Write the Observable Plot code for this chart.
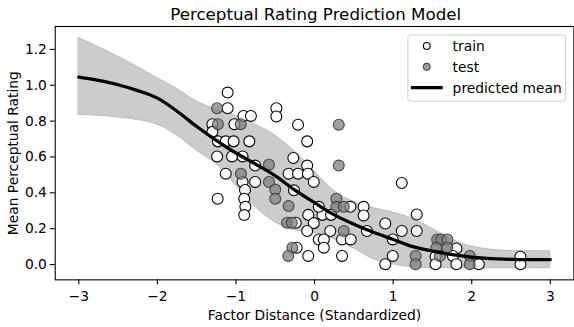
<!DOCTYPE html>
<html>
<head>
<meta charset="utf-8">
<script src="https://cdn.jsdelivr.net/npm/d3@7"></script>
<script src="https://cdn.jsdelivr.net/npm/@observablehq/plot@0.6"></script>
<style>
  html, body { margin: 0; padding: 0; background: white; overflow: hidden; }
  #wrap { position: relative; width: 574px; height: 327px; overflow: hidden; background: white; }
  #title { position: absolute; top: 0; left: 55px; width: 521.4px; text-align: center;
           font-family: "DejaVu Sans", sans-serif; font-size: 16.7px; line-height: 28px; color: black; white-space: nowrap; }
  #chart { position: absolute; top: 26px; left: 0; }
</style>
</head>
<body>
<div id="wrap">
  <div id="title">Perceptual Rating Prediction Model</div>
  <div id="chart"></div>
</div>
<script>
// ---- data ----
const trainX = [-1.30, -1.30, -1.106, -1.106, -1.02, -0.904, -0.81, -1.23, -1.13, -1.03, -0.83, -1.24, -1.05, -0.916,
  -0.756, -1.13, -0.756, -0.916, -0.885, -1.233, -0.895, -0.88, -0.895, -0.486, -0.486, -0.21, -0.094, -0.27,
  -0.094, -0.33, -0.21, -0.085, -0.01, -0.262, -0.24, -0.228, -0.08, -0.08, 0.10, 0.21, 0.054, -0.01, -0.094,
  0.20, 0.054, 0.118, 0.118, 0.35, 0.46, 0.35, 0.456, 0.624, 0.624, 0.666, 0.90, 0.995, 0.995, 0.90, 1.11,
  1.30, 1.11, 1.30, 1.54, 1.54, 1.805, 1.76, 1.805, 2.09, 2.62, 2.62];
const trainY = [0.783, 0.740, 0.959, 0.872, 0.783, 0.829, 0.829, 0.687, 0.687, 0.687, 0.687, 0.603, 0.603, 0.603,
  0.552, 0.507, 0.461, 0.461, 0.416, 0.367, 0.367, 0.322, 0.276, 0.872, 0.826, 0.780, 0.687, 0.594,
  0.552, 0.507, 0.507, 0.507, 0.461, 0.414, 0.233, 0.094, 0.048, 0.277, 0.277, 0.277, 0.322, 0.231, 0.187,
  0.187, 0.140, 0.140, 0.094, 0.140, 0.140, 0.048, 0.322, 0.322, 0.274, 0.187, 0.229, 0.140, 0.048, 0.002, 0.455,
  0.279, 0.187, 0.187, 0.044, 0.002, 0.090, 0.048, 0.002, 0.002, 0.044, 0.002];

const testX = [-1.24, -1.23, -0.94, -0.937, -0.58, -0.58, -0.50, -0.50, -0.33, -0.35, -0.29, -0.283, -0.334,
  0.308, 0.308, 0.278, 0.278, 0.371, 0.371, 1.286, 1.286, 1.56, 1.61, 1.69, 1.55, 1.69, 1.595, 1.975, 1.975];
const testY = [0.872, 0.783, 0.783, 0.507, 0.557, 0.461, 0.418, 0.367, 0.326, 0.233, 0.233, 0.094, 0.048,
  0.780, 0.552, 0.367, 0.322, 0.322, 0.187, 0.048, 0.002, 0.140, 0.140, 0.140, 0.094, 0.094, 0.048, 0.048, 0.002];

// predicted mean curve
const meanX = [-3, -2.75, -2.5, -2.25, -2, -1.75, -1.5, -1.25, -1, -0.75, -0.5, -0.25, 0, 0.25, 0.5, 0.75, 1, 1.25, 1.5, 1.75, 2, 2.5, 3];
const meanY = [1.045, 1.027, 1.003, 0.97, 0.928, 0.855, 0.77, 0.693, 0.622, 0.56, 0.495, 0.415, 0.345, 0.277, 0.225, 0.18, 0.14, 0.10, 0.075, 0.055, 0.042, 0.029, 0.028];
// uncertainty band
const bandX  = [-3, -2.5, -2, -1.75, -1.5, -1.25, -1, -0.75, -0.5, -0.25, 0, 0.25, 0.5, 0.75, 1, 1.25, 1.5, 1.75, 2, 2.5, 3];
const bandHi = [1.263, 1.16, 1.04, 0.98, 0.91, 0.865, 0.83, 0.78, 0.72, 0.63, 0.52, 0.41, 0.35, 0.315, 0.29, 0.255, 0.20, 0.14, 0.10, 0.076, 0.074];
const bandLo = [0.835, 0.82, 0.78, 0.72, 0.635, 0.56, 0.44, 0.32, 0.235, 0.19, 0.178, 0.14, 0.09, 0.03, 0.0, -0.015, -0.02, -0.021, -0.021, -0.021, -0.02];

const xTicks = [-3, -2, -1, 0, 1, 2, 3];
const yTicks = [0, 0.2, 0.4, 0.6, 0.8, 1.0, 1.2];
const legendLabels = ["train", "test", "predicted mean"];

// ---- build tables ----
const train = trainX.map((x, i) => ({x, y: trainY[i]}));
const test = testX.map((x, i) => ({x, y: testY[i]}));
const meanData = meanX.map((x, i) => ({x, y: meanY[i]}));
const band = bandX.map((x, i) => ({x, lo: bandLo[i], hi: bandHi[i]}));

const FS = 13.9;
const chart = Plot.plot({
  width: 577,
  height: 301,
  marginLeft: 55,
  marginRight: 0.6,
  marginTop: 0,
  marginBottom: 46.3,
  style: {fontFamily: "DejaVu Sans", fontSize: FS + "px", background: "white", color: "black", overflow: "visible"},
  x: {domain: [-3.3, 3.3]},
  y: {domain: [-0.0854, 1.3277]},
  marks: [
    Plot.areaY(band, {x: "x", y1: "lo", y2: "hi", fill: "#cccccc", stroke: "#b3b3b3", strokeWidth: 0.8, curve: "monotone-x"}),
    Plot.dot(train, {x: "x", y: "y", r: 5.5, fill: "white", stroke: "black", strokeWidth: 1.1}),
    Plot.dot(test, {x: "x", y: "y", r: 5.5, fill: "#808080", fillOpacity: 0.75, stroke: "#333", strokeOpacity: 0.85, strokeWidth: 1.1}),
    Plot.line(meanData, {x: "x", y: "y", stroke: "black", strokeWidth: 3.3, curve: "catmull-rom"}),
    Plot.frame({stroke: "black", strokeWidth: 1.1}),
    Plot.axisX({ticks: xTicks, tickSize: 4.9, tickPadding: 6, strokeWidth: 1.1, fontSize: FS, tickFormat: d3.format("d"),
      label: "Factor Distance (Standardized)", labelAnchor: "center", labelArrow: "none", labelOffset: 40.5}),
    Plot.axisY({ticks: yTicks, tickSize: 4.9, tickPadding: 3.5, strokeWidth: 1.1, fontSize: FS, tickFormat: d3.format(".1f"),
      label: "Mean Perceptual Rating", labelAnchor: "center", labelArrow: "none", labelOffset: 47.5})
  ]
});
document.getElementById("chart").appendChild(chart);

// ---- legend (upper right, inside axes) ----
const svg = d3.select(chart);
const lg = svg.append("g").attr("font-family", "DejaVu Sans").attr("font-size", FS + "px").attr("text-anchor", "start");
lg.append("rect").attr("x", 410).attr("y", 9).attr("width", 158.5).attr("height", 66.7)
  .attr("rx", 3).attr("fill", "white").attr("fill-opacity", 0.8).attr("stroke", "#d0d0d0").attr("stroke-width", 1);
const rowsY = [20, 41, 62];
lg.append("circle").attr("cx", 429).attr("cy", rowsY[0]).attr("r", 3.4).attr("fill", "white").attr("stroke", "black").attr("stroke-width", 1.1);
lg.append("circle").attr("cx", 429).attr("cy", rowsY[1]).attr("r", 3.4).attr("fill", "#808080").attr("fill-opacity", 0.75).attr("stroke", "#333").attr("stroke-opacity", 0.85).attr("stroke-width", 1.1);
lg.append("line").attr("x1", 413).attr("x2", 445).attr("y1", rowsY[2]).attr("y2", rowsY[2]).attr("stroke", "black").attr("stroke-width", 3.3);
legendLabels.forEach((t, i) => {
  lg.append("text").attr("x", 455).attr("y", rowsY[i]).attr("dy", "0.36em").attr("text-anchor", "start").attr("fill", "black").text(t);
});
</script>
</body>
</html>
